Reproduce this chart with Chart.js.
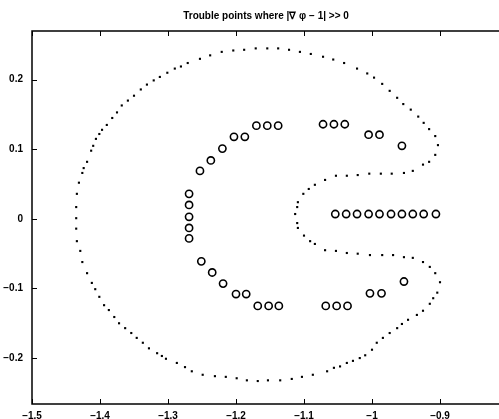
<!DOCTYPE html>
<html>
<head>
<meta charset="utf-8">
<script src="https://cdn.jsdelivr.net/npm/chart.js@4"></script>
<style>
  html, body { margin: 0; padding: 0; overflow: hidden; background: #fff; }
</style>
</head>
<body>
<canvas id="troubleChart" width="532" height="419"></canvas>
<script>
// tick labels
const xTicks = [-1.5, -1.4, -1.3, -1.2, -1.1, -1, -0.9];
const yTicks = [-0.2, -0.1, 0, 0.1, 0.2];

// boundary of the domain (small dots)
const boundaryX = [
  -0.903, -0.907, -0.916, -0.924, -0.932, -0.943, -0.954, -0.963, -0.974, -0.985, -0.997, -1.007, -1.022, -1.041,
  -1.057, -1.072, -1.090, -1.106, -1.122, -1.138, -1.154, -1.171, -1.188, -1.204, -1.221, -1.238, -1.253,
  -1.271, -1.281, -1.290, -1.301, -1.312, -1.321, -1.331, -1.340, -1.350, -1.359, -1.368, -1.375, -1.382, -1.390,
  -1.397, -1.401, -1.406, -1.410, -1.413, -1.419, -1.424,
  -1.426, -1.431, -1.434, -1.435, -1.435, -1.435, -1.434, -1.429, -1.426, -1.419, -1.412, -1.407, -1.401, -1.394,
  -1.387, -1.379, -1.372, -1.363, -1.354, -1.346, -1.337, -1.328, -1.316, -1.309, -1.303, -1.287, -1.275, -1.265, -1.249,
  -1.231, -1.215, -1.199, -1.184, -1.168, -1.153, -1.135, -1.118, -1.103, -1.087, -1.066, -1.056, -1.047, -1.037,
  -1.028, -1.018, -1.010, -1.000, -0.993, -0.984, -0.974, -0.963, -0.956, -0.947, -0.934, -0.925, -0.915, -0.910, -0.904, -0.900,
  -0.907, -0.915, -0.925, -0.940, -0.953, -0.969, -0.985, -1.003, -1.021, -1.037, -1.053, -1.069, -1.084, -1.091,
  -1.100, -1.109, -1.110, -1.113, -1.110, -1.109, -1.101, -1.093, -1.084, -1.069, -1.053, -1.037, -1.021, -1.004,
  -0.987, -0.971, -0.953, -0.940, -0.925, -0.916, -0.907
];
const boundaryY = [
  0.106, 0.119, 0.129, 0.138, 0.147, 0.157, 0.165, 0.174, 0.184, 0.194, 0.203, 0.209, 0.216, 0.224,
  0.229, 0.233, 0.237, 0.240, 0.243, 0.245, 0.245, 0.245, 0.243, 0.242, 0.240, 0.235, 0.230,
  0.224, 0.219, 0.216, 0.210, 0.204, 0.199, 0.193, 0.186, 0.177, 0.170, 0.163, 0.153, 0.145, 0.135,
  0.128, 0.122, 0.115, 0.105, 0.098, 0.082, 0.073,
  0.066, 0.052, 0.036, 0.017, 0.001, -0.014, -0.032, -0.046, -0.062, -0.078, -0.092, -0.101, -0.112, -0.124,
  -0.131, -0.141, -0.150, -0.157, -0.164, -0.171, -0.178, -0.186, -0.193, -0.197, -0.201, -0.207, -0.213, -0.219, -0.224,
  -0.226, -0.227, -0.229, -0.232, -0.233, -0.232, -0.232, -0.230, -0.227, -0.224, -0.219, -0.214, -0.212, -0.207,
  -0.204, -0.200, -0.196, -0.188, -0.178, -0.171, -0.164, -0.157, -0.151, -0.145, -0.138, -0.132, -0.122, -0.114, -0.106, -0.091,
  -0.078, -0.069, -0.062, -0.056, -0.055, -0.052, -0.052, -0.052, -0.050, -0.049, -0.046, -0.045, -0.036, -0.032,
  -0.024, -0.013, -0.006, 0.007, 0.017, 0.024, 0.036, 0.043, 0.049, 0.056, 0.062, 0.062, 0.063, 0.065,
  0.065, 0.065, 0.066, 0.069, 0.078, 0.082, 0.092
];

// trouble points (open circles)
const troubleX = [
  -1.170, -1.154, -1.138, -1.203, -1.187, -1.220, -1.237, -1.253,
  -1.269, -1.269, -1.269, -1.269, -1.269,
  -1.251, -1.235, -1.219, -1.200, -1.185, -1.168, -1.152, -1.137,
  -1.072, -1.056, -1.040, -1.005, -0.989, -0.956,
  -1.054, -1.038, -1.022, -1.005, -0.989, -0.972, -0.956, -0.940, -0.924, -0.906,
  -1.068, -1.052, -1.036, -1.003, -0.986, -0.953
];
const troubleY = [
  0.134, 0.134, 0.134, 0.118, 0.118, 0.101, 0.084, 0.069,
  0.036, 0.020, 0.003, -0.013, -0.028,
  -0.061, -0.077, -0.093, -0.108, -0.108, -0.125, -0.125, -0.125,
  0.136, 0.136, 0.136, 0.121, 0.121, 0.105,
  0.007, 0.007, 0.007, 0.007, 0.007, 0.007, 0.007, 0.007, 0.007, 0.007,
  -0.125, -0.125, -0.125, -0.107, -0.107, -0.090
];

const toPoints = (xs, ys) => xs.map((x, i) => ({ x: x, y: ys[i] }));
const fmt = v => String(Math.round(v * 10) / 10).replace('-', '\u2212');
const tickFont = { family: 'Liberation Sans', size: 10, weight: 'bold' };

// matlab style box with ticks pointing inward
const boxTicks = {
  id: 'boxTicks',
  afterDraw(chart) {
    const { ctx, chartArea: a } = chart;
    const sx = chart.scales.x, sy = chart.scales.y;
    ctx.save();
    ctx.strokeStyle = '#000';
    ctx.lineWidth = 1.5;
    ctx.strokeRect(a.left, a.top, a.right - a.left, a.bottom - a.top);
    ctx.lineWidth = 1;
    ctx.beginPath();
    xTicks.forEach(v => {
      const px = Math.round(sx.getPixelForValue(v)) + 0.5;
      ctx.moveTo(px, a.bottom); ctx.lineTo(px, a.bottom - 5);
      ctx.moveTo(px, a.top); ctx.lineTo(px, a.top + 5);
    });
    yTicks.forEach(v => {
      const py = Math.round(sy.getPixelForValue(v)) + 0.5;
      ctx.moveTo(a.left, py); ctx.lineTo(a.left + 5, py);
      ctx.moveTo(a.right, py); ctx.lineTo(a.right - 5, py);
    });
    ctx.stroke();
    ctx.restore();
  }
};

const ctx = document.getElementById('troubleChart').getContext('2d');

new Chart(ctx, {
  type: 'scatter',
  data: {
    datasets: [{
      label: 'boundary',
      data: toPoints(boundaryX, boundaryY),
      pointStyle: 'rect',
      pointRadius: 1.5,
      backgroundColor: '#000',
      borderWidth: 0
    }, {
      label: 'trouble points',
      data: toPoints(troubleX, troubleY),
      pointStyle: 'circle',
      pointRadius: 3.6,
      borderWidth: 1.6,
      borderColor: '#000',
      backgroundColor: 'rgba(0,0,0,0)'
    }]
  },
  options: {
    responsive: false,
    animation: false,
    layout: { padding: 0 },
    plugins: {
      legend: { display: false },
      tooltip: { enabled: false },
      title: {
        display: true,
        text: 'Trouble points where |\u2207 \u03c6 \u2212 1| >> 0',
        color: '#000',
        font: { family: 'Liberation Sans', size: 10, weight: 'bold' },
        padding: { top: 10, bottom: 5 }
      }
    },
    scales: {
      x: {
        type: 'linear',
        position: 'bottom',
        min: -1.5,
        max: -0.8,
        afterBuildTicks: s => { s.ticks = xTicks.map(v => ({ value: v })); },
        afterFit: s => { s.height = 15; },
        ticks: { callback: fmt, font: tickFont, color: '#000', padding: 6, maxRotation: 0, autoSkip: false },
        grid: { display: false, drawTicks: false },
        border: { display: false }
      },
      x2: {
        type: 'linear',
        position: 'top',
        afterFit: s => { s.height = 4; },
        ticks: { display: false },
        grid: { display: false, drawTicks: false },
        border: { display: false }
      },
      y: {
        type: 'linear',
        position: 'left',
        min: -0.266,
        max: 0.27,
        afterBuildTicks: s => { s.ticks = yTicks.map(v => ({ value: v })); },
        afterFit: s => { s.width = 32; },
        ticks: { callback: fmt, font: tickFont, color: '#000', padding: 9 },
        grid: { display: false, drawTicks: false },
        border: { display: false }
      },
      y2: {
        type: 'linear',
        position: 'right',
        afterFit: s => { s.width = 24; },
        ticks: { display: false },
        grid: { display: false, drawTicks: false },
        border: { display: false }
      }
    }
  },
  plugins: [boxTicks]
});
</script>
</body>
</html>
